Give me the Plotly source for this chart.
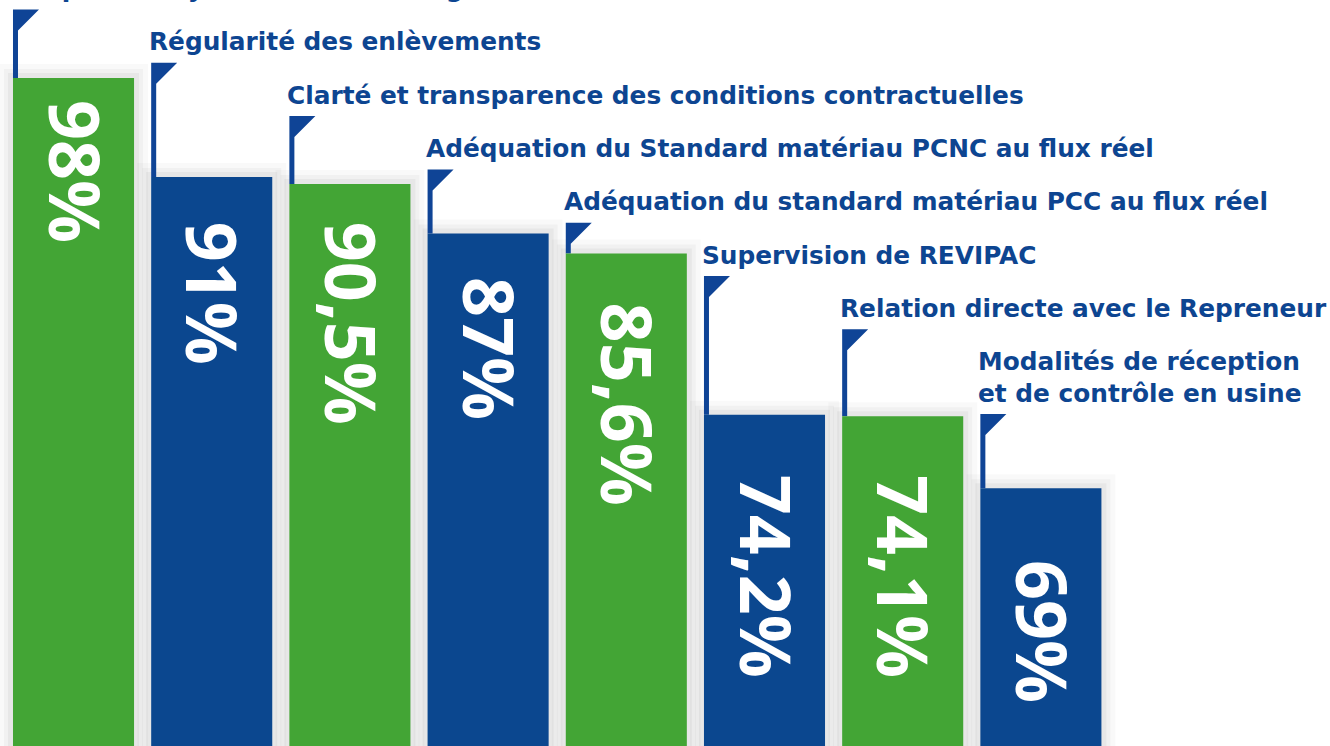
import plotly.graph_objects as go

# ---- data ----
labels = [
    "Respect du rythme de ramassage",
    "Régularité des enlèvements",
    "Clarté et transparence des conditions contractuelles",
    "Adéquation du Standard matériau PCNC au flux réel",
    "Adéquation du standard matériau PCC au flux réel",
    "Supervision de REVIPAC",
    "Relation directe avec le Repreneur",
    "Modalités de réception<br>et de contrôle en usine",
]
values = [98, 91, 90.5, 87, 85.6, 74.2, 74.1, 69]
value_text = ["98%", "91%", "90,5%", "87%", "85,6%", "74,2%", "74,1%", "69%"]
colors = ["#43a535", "#0b478f"] * 4

# ---- layout / style constants ----
W, H = 1330, 746
XR = [-0.532, 9.092]
YR = [50.79, 103.51]
BAR_W = 0.876
text_gap_px = [22, 45, 38, 43, 49, 60, 59, 72]   # gap between bar top and value text
dxp = (XR[1] - XR[0]) / W
dyp = (YR[1] - YR[0]) / H
FLAG = "#0f4496"
LABEL_COL = "#0d4591"

x = list(range(len(values)))

fig = go.Figure(go.Bar(
    x=x, y=values, marker=dict(color=colors, line=dict(width=0)),
    width=BAR_W, hoverinfo="skip",
))

shapes = []
annotations = []
for i, (v, lab, t) in enumerate(zip(values, labels, value_text)):
    xl = i - BAR_W / 2
    xr = i + BAR_W / 2
    # soft shadow
    for k, a in [(14, 0.025), (9, 0.03), (5, 0.04)]:
        shapes.append(dict(type="rect", xref="x", yref="y", layer="below",
                           x0=xl - k * dxp, x1=xr + k * dxp,
                           y0=YR[0] - 5, y1=v + k * dyp,
                           fillcolor=f"rgba(0,0,0,{a})", line=dict(width=0)))
    # label position (pixels from top)
    n_lines = lab.count("<br>") + 1
    top_px = -28 + 53.3 * i
    flag_px = top_px + 31.5 * n_lines + 6
    annotations.append(dict(
        x=xl, y=1 - top_px / H, xref="x", yref="paper",
        xanchor="left", yanchor="top", xshift=-4, showarrow=False,
        text=lab, align="left",
        font=dict(family="DejaVu Sans", size=24.8, color=LABEL_COL, weight="bold"),
    ))
    yt = YR[1] - flag_px * dyp
    path = (f"M {xl},{yt} L {xl + 26 * dxp},{yt} L {xl + 5 * dxp},{yt - 21 * dyp} "
            f"L {xl + 5 * dxp},{v} L {xl},{v} Z")
    shapes.append(dict(type="path", xref="x", yref="y", layer="below",
                       path=path, fillcolor=FLAG, line=dict(width=0)))
    # value text, rotated
    annotations.append(dict(
        x=i, y=v, xref="x", yref="y", xanchor="center", yanchor="top",
        yshift=-(text_gap_px[i] - 2), xshift=2, showarrow=False, textangle=90, text=t,
        font=dict(family="Open Sans", size=70, color="white", weight="bold"),
    ))

fig.update_layout(
    width=W, height=H, margin=dict(l=0, r=0, t=0, b=0),
    paper_bgcolor="white", plot_bgcolor="rgba(0,0,0,0)",
    xaxis=dict(range=XR, visible=False, fixedrange=True),
    yaxis=dict(range=YR, visible=False, fixedrange=True),
    shapes=shapes, annotations=annotations, showlegend=False,
)
fig.write_html("out.html", post_script="document.body.style.margin='0px';",
               config={"displayModeBar": False})
